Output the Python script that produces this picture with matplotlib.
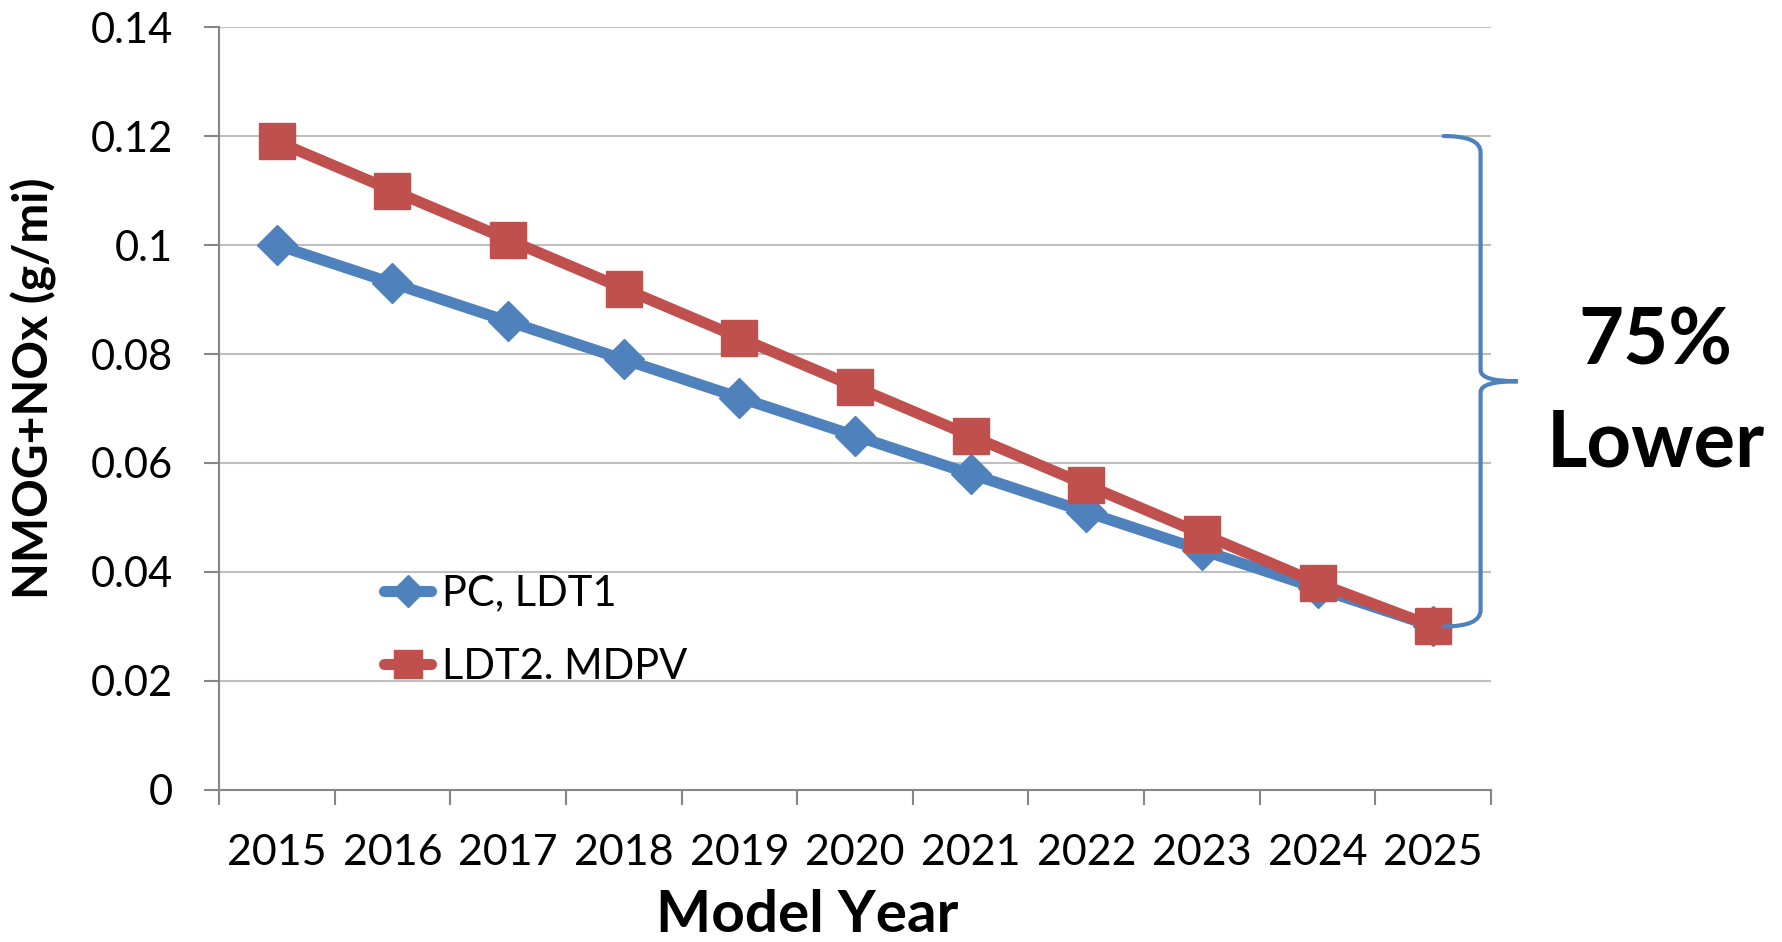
import matplotlib
matplotlib.use("Agg")
import matplotlib.pyplot as plt
from matplotlib.path import Path
from matplotlib.patches import PathPatch
from matplotlib.ticker import FixedLocator, FixedFormatter

plt.rcParams['font.family'] = ['Lato', 'DejaVu Sans']

# === Datos ===
years = ['2015', '2016', '2017', '2018', '2019', '2020',
         '2021', '2022', '2023', '2024', '2025']
pc_ldt1 = [0.100, 0.093, 0.086, 0.079, 0.072, 0.065,
           0.058, 0.051, 0.044, 0.037, 0.030]
ldt2_mdpv = [0.119, 0.110, 0.101, 0.092, 0.083, 0.074,
             0.065, 0.056, 0.047, 0.038, 0.030]
y_ticks = [0, 0.02, 0.04, 0.06, 0.08, 0.10, 0.12, 0.14]
y_tick_labels = ['0', '0.02', '0.04', '0.06', '0.08', '0.1', '0.12', '0.14']
series_names = ['PC, LDT1', 'LDT2. MDPV']

blue = '#4F81BD'
red = '#C0504D'
grey = '#868686'

fig = plt.figure(figsize=(17.82, 9.42), dpi=100)
ax = fig.add_axes([0.1229, 0.1614, 0.7138, 0.8099])

x = list(range(len(years)))
ax.plot(x, pc_ldt1, color=blue, lw=8, marker='D', markersize=20,
        solid_capstyle='round', label=series_names[0], zorder=3)
ax.plot(x, ldt2_mdpv, color=red, lw=8, marker='s', markersize=26,
        solid_capstyle='round', label=series_names[1], zorder=4)

ax.set_xlim(-0.5, len(years) - 0.5)
ax.set_ylim(0, 0.14)

# ejes estilo Excel
ax.yaxis.set_major_locator(FixedLocator(y_ticks))
ax.yaxis.set_major_formatter(FixedFormatter(y_tick_labels))
ax.xaxis.set_major_locator(FixedLocator([i - 0.5 for i in range(len(years) + 1)]))
ax.xaxis.set_major_formatter(FixedFormatter([''] * (len(years) + 1)))
ax.xaxis.set_minor_locator(FixedLocator(x))
ax.xaxis.set_minor_formatter(FixedFormatter(years))
ax.tick_params(axis='y', length=11, width=1.5, color=grey, pad=22, labelsize=30)
ax.tick_params(axis='x', which='major', length=11, width=1.5, color=grey)
ax.tick_params(axis='x', which='minor', length=0, pad=32, labelsize=31)
for side in ['top', 'right']:
    ax.spines[side].set_visible(False)
for side in ['left', 'bottom']:
    ax.spines[side].set_color(grey)
    ax.spines[side].set_linewidth(1.5)
ax.grid(axis='y', color='#BFBFBF', lw=1.5)
ax.set_axisbelow(True)

fig.text(0.0191, 0.588, 'NMOG+NOx (g/mi)', rotation=90, ha='center', va='center',
         fontsize=34.5, fontweight='bold')
fig.text(0.453, 0.028, 'Model Year', ha='center', va='center',
         fontsize=42, fontweight='bold')

ax.legend(loc='upper left', bbox_to_anchor=(0.113, 0.31), frameon=False,
          fontsize=30, handlelength=1.15, handletextpad=0.25, labelspacing=0.85,
          borderpad=0, markerscale=0.8)

# llave
xv, xe, xt = 10.41, 10.09, 10.73
top, mid, bot = 0.12, 0.075, 0.03
verts = [(xe, top), (xv, top), (xv, top - 0.003),
         (xv, mid + 0.002), (xv, mid), (xt, mid),
         (xv, mid), (xv, mid - 0.002),
         (xv, bot + 0.003), (xv, bot), (xe, bot)]
codes = [Path.MOVETO, Path.CURVE3, Path.CURVE3,
         Path.LINETO, Path.CURVE3, Path.CURVE3,
         Path.CURVE3, Path.CURVE3,
         Path.LINETO, Path.CURVE3, Path.CURVE3]
ax.add_patch(PathPatch(Path(verts, codes), fill=False, edgecolor=blue, lw=3,
                       capstyle='round', clip_on=False, zorder=5))

fig.text(0.929, 0.636, '75%', ha='center', va='center', fontsize=56, fontweight='bold')
fig.text(0.929, 0.528, 'Lower', ha='center', va='center', fontsize=56, fontweight='bold')

fig.savefig('out.png', dpi=100)
